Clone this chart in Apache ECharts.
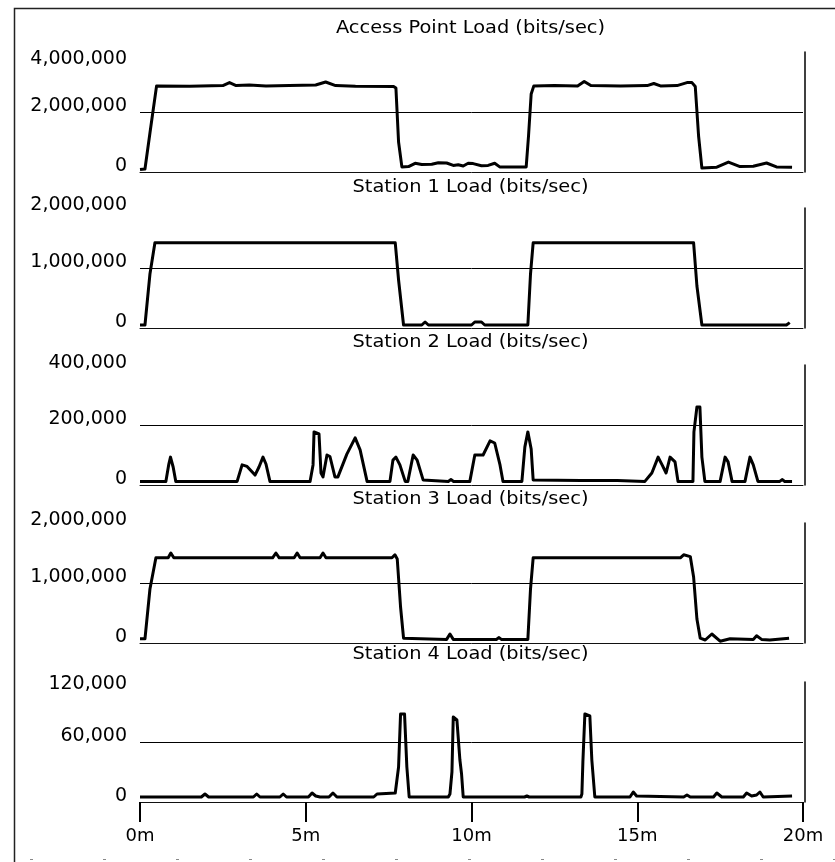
<!DOCTYPE html>
<html>
<head>
<meta charset="utf-8">
<script src="https://cdn.jsdelivr.net/npm/echarts@6/dist/echarts.min.js"></script>
<style>
  html, body { margin: 0; padding: 0; background: #fff; }
  #chart { width: 835px; height: 862px; }
</style>
</head>
<body>
<div id="chart"></div>
<script>
// Simulation time axis, minutes
const timeTicks = [0, 5, 10, 15, 20];

const panelTitles = [
  'Access Point Load (bits/sec)',
  'Station 1 Load (bits/sec)',
  'Station 2 Load (bits/sec)',
  'Station 3 Load (bits/sec)',
  'Station 4 Load (bits/sec)'
];
const yMax  = [4000000, 2000000, 400000, 2000000, 120000];
const yStep = [2000000, 1000000, 200000, 1000000, 60000];

// Access point load (bits/sec) vs time (min)
const apTime = [0, 0.15, 0.3, 0.5, 1.5, 2.5, 2.7, 2.9, 3.3, 3.8, 4.5, 5.3, 5.6, 5.9, 6.5, 7.65, 7.72, 7.8, 7.9, 8.1,
  8.3, 8.5, 8.8, 9.0, 9.25, 9.45, 9.6, 9.75, 9.9, 10.05, 10.3, 10.5, 10.7, 10.85, 11.65, 11.72, 11.8, 11.88, 12.5, 13.2,
  13.4, 13.6, 14.5, 15.3, 15.5, 15.7, 16.2, 16.5, 16.65, 16.75, 16.85, 16.95, 17.4, 17.75, 18.1, 18.5, 18.9, 19.2, 19.67];
const apLoad = [80000, 100000, 1300000, 2870000, 2860000, 2880000, 2980000, 2880000, 2900000, 2870000,
  2880000, 2900000, 3000000, 2880000, 2860000, 2850000, 2800000, 1000000, 170000, 180000,
  290000, 250000, 260000, 310000, 300000, 220000, 240000, 200000, 290000, 280000,
  210000, 220000, 290000, 170000, 170000, 1200000, 2600000, 2870000, 2880000, 2870000,
  3020000, 2880000, 2870000, 2880000, 2950000, 2870000, 2880000, 2980000, 2980000, 2850000,
  1200000, 130000, 160000, 330000, 180000, 190000, 300000, 170000, 160000];

// Station 1
const s1Time = [0, 0.15, 0.3, 0.45, 7.7, 7.8, 7.95, 8.5, 8.6, 8.7, 10.0, 10.1, 10.3, 10.4, 11.7, 11.78, 11.86,
  16.7, 16.8, 16.95, 19.5, 19.6];
const s1Load = [50000, 50000, 900000, 1420000, 1420000, 800000, 50000, 50000, 100000, 50000, 50000, 100000,
  100000, 50000, 50000, 900000, 1420000, 1420000, 700000, 50000, 50000, 90000];

// Station 2
const s2Time = [0, 0.78, 0.87, 0.92, 1.0, 1.08, 2.93, 3.08, 3.23, 3.47, 3.59, 3.71, 3.8, 3.92,
  5.13, 5.22, 5.25, 5.4, 5.46, 5.52, 5.64, 5.73, 5.88, 5.97, 6.24, 6.49, 6.64, 6.85,
  7.54, 7.63, 7.72, 7.84, 8.0, 8.08, 8.24, 8.36, 8.54, 9.3, 9.38, 9.46,
  9.95, 10.1, 10.35, 10.56, 10.7, 10.86, 10.95, 11.52, 11.61, 11.7, 11.8, 11.86,
  13.3, 13.36, 13.42, 14.28, 14.33, 14.4, 15.23, 15.44, 15.63, 15.75, 15.87, 15.99, 16.14, 16.23,
  16.68, 16.71, 16.8, 16.89, 16.95, 17.04, 17.5, 17.65, 17.74, 17.86, 18.25, 18.4, 18.5, 18.64,
  19.3, 19.37, 19.45, 19.67];
const s2Load = [12000, 12000, 70000, 93000, 60000, 12000, 12000, 67000, 62000, 33000, 60000, 93000, 70000, 12000,
  12000, 67000, 177000, 170000, 40000, 27000, 100000, 95000, 27000, 27000, 103000, 157000, 117000, 12000,
  12000, 83000, 93000, 67000, 12000, 12000, 100000, 83000, 17000, 12000, 18000, 12000,
  12000, 100000, 100000, 147000, 140000, 67000, 12000, 12000, 127000, 177000, 120000, 17000,
  15000, 18000, 15000, 15000, 18000, 15000, 12000, 40000, 93000, 67000, 40000, 93000, 77000, 12000,
  12000, 177000, 260000, 260000, 93000, 12000, 12000, 93000, 77000, 12000, 12000, 93000, 67000, 12000,
  12000, 18000, 12000, 12000];

// Station 3
const s3Time = [0, 0.15, 0.3, 0.48, 0.85, 0.93, 1.02, 4.0, 4.1, 4.2, 4.65, 4.74, 4.83, 5.43, 5.52, 5.61,
  7.6, 7.69, 7.76, 7.86, 7.95, 9.25, 9.35, 9.45, 10.75, 10.83, 10.9, 11.7, 11.78, 11.86,
  16.3, 16.4, 16.6, 16.7, 16.8, 16.9, 17.05, 17.25, 17.5, 17.8, 18.5, 18.6, 18.75, 19.0, 19.58];
const s3Load = [70000, 70000, 900000, 1420000, 1420000, 1500000, 1420000, 1420000, 1500000, 1420000,
  1420000, 1500000, 1420000, 1420000, 1500000, 1420000,
  1420000, 1470000, 1400000, 600000, 80000, 60000, 150000, 60000, 60000, 90000, 60000, 60000, 900000, 1420000,
  1420000, 1470000, 1440000, 1100000, 400000, 80000, 50000, 150000, 30000, 70000, 60000, 120000, 60000, 50000, 80000];

// Station 4
const s4Time = [0, 1.85, 1.96, 2.07, 3.42, 3.52, 3.62, 4.22, 4.32, 4.42, 5.08, 5.19, 5.3, 5.43, 5.7, 5.82, 5.94,
  7.05, 7.15, 7.7, 7.75, 7.8, 7.86, 7.98, 8.05, 8.12, 9.3, 9.35, 9.41, 9.45, 9.56, 9.65, 9.7, 9.75,
  11.6, 11.67, 11.74, 13.3, 13.33, 13.36, 13.42, 13.57, 13.63, 13.72, 14.78, 14.88, 14.98,
  16.4, 16.5, 16.6, 17.3, 17.4, 17.55, 18.2, 18.3, 18.45, 18.6, 18.7, 18.8, 19.67];
const s4Load = [5000, 5000, 8000, 5000, 5000, 8000, 5000, 5000, 8000, 5000, 5000, 9000, 6000, 5000, 5000, 9000, 5000,
  5000, 8000, 9000, 9000, 35000, 88000, 88000, 35000, 5000, 5000, 8000, 30000, 85000, 82000, 42000, 28000, 5000,
  5000, 6000, 5000, 5000, 8000, 40000, 88000, 86000, 42000, 5000, 5000, 10000, 6000,
  5000, 7000, 5000, 5000, 9000, 5000, 5000, 9000, 6000, 7000, 10000, 5000, 6000];

const seriesTimes = [apTime, s1Time, s2Time, s3Time, s4Time];
const seriesLoads = [apLoad, s1Load, s2Load, s3Load, s4Load];

// ---- layout ----
const FONT = 'DejaVu Sans';
const plotLeft = 140, plotWidth = 663, plotHeight = 120;
const baselines = [172, 328, 485, 643, 802];
const titleY = [29, 188, 343, 500, 655];
const topLabelShift = [7, -3, -2, -3, 2]; // vertical offset of the max tick label
const tickLabelSize = 19;

function withCommas(v) {
  return String(v).replace(/\B(?=(\d{3})+(?!\d))/g, ',');
}

const grids = [], xAxes = [], yAxes = [], series = [], graphics = [];

for (let i = 0; i < 5; i++) {
  const top = baselines[i] - plotHeight;
  const last = i === 4;
  grids.push({ left: plotLeft, top: top, width: plotWidth, height: plotHeight, containLabel: false });

  xAxes.push({
    type: 'value', gridIndex: i, min: timeTicks[0], max: timeTicks[timeTicks.length - 1],
    interval: timeTicks[1] - timeTicks[0],
    axisLine: { show: true, onZero: false, lineStyle: { color: '#111', width: 1 } },
    axisTick: { show: last, length: 20, lineStyle: { color: '#000', width: 2 } },
    axisLabel: {
      show: last, margin: 25, color: '#000', fontFamily: FONT, fontSize: 18,
      formatter: v => v + 'm'
    },
    splitLine: { show: false }
  });

  const topLH = 2 * (topLabelShift[i] + tickLabelSize / 2);
  const baseStyle = { fontFamily: FONT, fontSize: tickLabelSize, color: '#000' };
  yAxes.push({
    type: 'value', gridIndex: i, position: 'left', min: 0, max: yMax[i], interval: yStep[i],
    axisLine: { show: false }, axisTick: { show: false },
    axisLabel: {
      margin: 13, verticalAlign: 'middle', showMaxLabel: true, showMinLabel: true,
      formatter: (v) => (v === yMax[i] ? '{t|' : '{b|') + withCommas(v) + '}',
      rich: {
        b: Object.assign({ lineHeight: 31, verticalAlign: 'top' }, baseStyle),
        t: Object.assign({ lineHeight: topLH, verticalAlign: 'bottom' }, baseStyle)
      }
    },
    splitLine: { show: true, showMinLine: false, showMaxLine: false, lineStyle: { color: '#000', width: 1 } }
  });
  // right-hand frame line of each panel
  yAxes.push({
    type: 'value', gridIndex: i, position: 'right', offset: 2, min: 0, max: yMax[i], interval: yStep[i],
    axisLine: { show: true, lineStyle: { color: '#000', width: 1.5 } },
    axisTick: { show: false }, axisLabel: { show: false }, splitLine: { show: false }
  });

  const t = seriesTimes[i], v = seriesLoads[i];
  series.push({
    type: 'line', xAxisIndex: i, yAxisIndex: 2 * i,
    data: t.map((x, k) => [x, v[k]]),
    showSymbol: false, symbol: 'none', smooth: false, clip: true,
    lineStyle: { color: '#000', width: 3, join: 'round' },
    itemStyle: { color: '#000' },
    animation: false, silent: true
  });

  graphics.push({
    type: 'text', x: plotLeft + plotWidth / 2 - 1, y: titleY[i], scaleX: 1.14,
    style: {
      text: panelTitles[i], fill: '#000', font: '17px "' + FONT + '"',
      textAlign: 'center', textVerticalAlign: 'middle'
    }
  });
}

// outer border of the figure
graphics.push({
  type: 'rect', shape: { x: 14.5, y: 8.5, width: 830, height: 900 },
  style: { fill: 'none', stroke: '#222', lineWidth: 1.5 }, silent: true
});
graphics.push({
  type: 'line', shape: { x1: 30, y1: 859.5, x2: 835, y2: 859.5 },
  style: { stroke: '#888', lineWidth: 1, lineDash: [3, 70] }, silent: true
});

const chart = echarts.init(document.getElementById('chart'), null, { renderer: 'canvas' });
chart.setOption({
  animation: false,
  backgroundColor: '#fff',
  grid: grids,
  xAxis: xAxes,
  yAxis: yAxes,
  series: series,
  graphic: graphics
});
</script>
</body>
</html>
